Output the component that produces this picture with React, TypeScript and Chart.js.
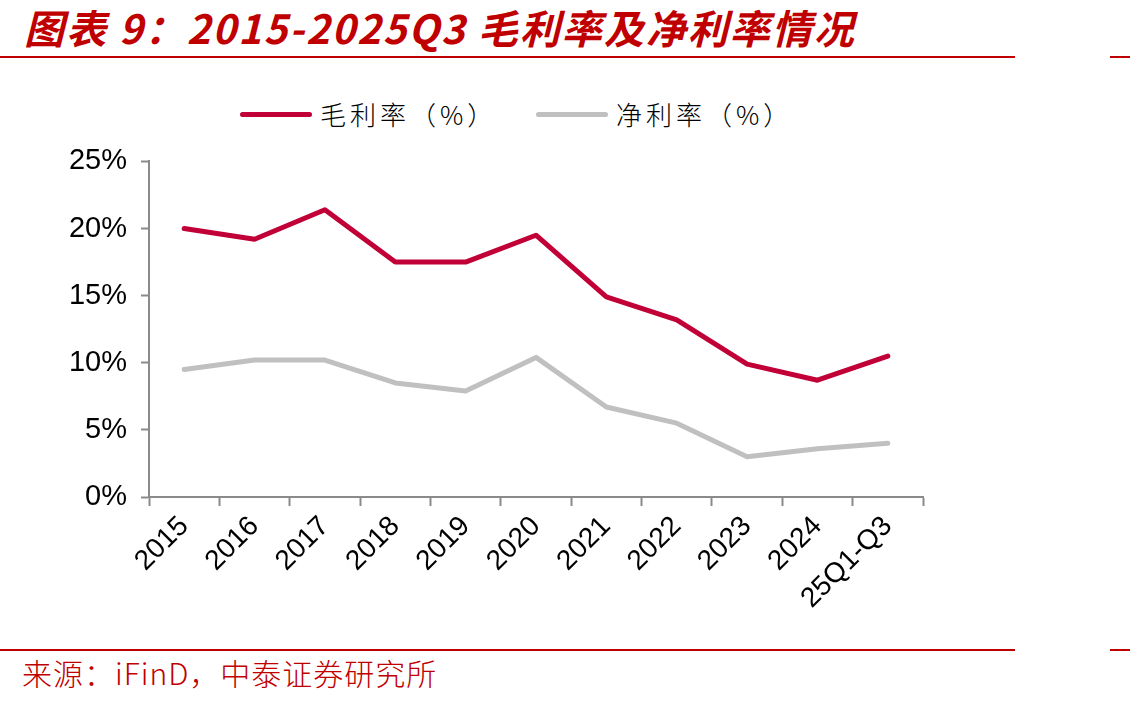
import React, { useEffect, useRef } from "react";
import { Chart, registerables } from "chart.js";

Chart.register(...registerables);

const categories = ["2015", "2016", "2017", "2018", "2019", "2020", "2021", "2022", "2023", "2024", "25Q1-Q3"];
const grossMargin = [20.0, 19.2, 21.4, 17.5, 17.5, 19.5, 14.9, 13.2, 9.9, 8.7, 10.5];
const netMargin = [9.5, 10.2, 10.2, 8.5, 7.9, 10.4, 6.7, 5.5, 3.0, 3.6, 4.0];
const seriesNames = ["毛利率（%）", "净利率（%）"];
const seriesColors = ["#C00036", "#C0C0C0"];
const yTicks = [0, 5, 10, 15, 20, 25];

const RED = "#C00000";
const AXIS = "#8A8A8A";

export default function App() {
  const canvasRef = useRef<HTMLCanvasElement | null>(null);

  useEffect(() => {
    const canvas = canvasRef.current;
    if (!canvas) return;
    const canvasTop = 130;
    const canvasHeight = 510;
    const plotBottom = 497;
    const chart = new Chart(canvas, {
      type: "line",
      data: {
        labels: categories,
        datasets: [
          {
            label: seriesNames[0],
            data: grossMargin,
            borderColor: seriesColors[0],
            backgroundColor: seriesColors[0],
            borderWidth: 5,
            pointRadius: 0,
            tension: 0,
            borderCapStyle: "round",
            borderJoinStyle: "round",
          },
          {
            label: seriesNames[1],
            data: netMargin,
            borderColor: seriesColors[1],
            backgroundColor: seriesColors[1],
            borderWidth: 5,
            pointRadius: 0,
            tension: 0,
            borderCapStyle: "round",
            borderJoinStyle: "round",
          },
        ],
      },
      options: {
        responsive: false,
        animation: false,
        devicePixelRatio: 1,
        layout: { padding: { top: 30, right: 207, left: 0, bottom: 0 } },
        plugins: {
          legend: { display: false },
          tooltip: { enabled: false },
        },
        scales: {
          x: {
            type: "category",
            offset: true,
            grid: {
              offset: true,
              drawOnChartArea: false,
              drawTicks: true,
              tickLength: 9,
              tickWidth: 2,
              tickColor: AXIS,
            },
            border: { color: AXIS, width: 2 },
            ticks: {
              minRotation: 45,
              maxRotation: 45,
              autoSkip: false,
              padding: 4,
              color: "#000",
              font: { family: "'Liberation Sans', Arial, sans-serif", size: 28 },
            },
            afterFit: (scale: any) => {
              scale.height = canvasTop + canvasHeight - plotBottom;
            },
          },
          y: {
            min: 0,
            max: 25,
            afterBuildTicks: (scale: any) => {
              scale.ticks = yTicks.map((v) => ({ value: v }));
            },
            grid: {
              drawOnChartArea: false,
              drawTicks: true,
              tickLength: 8,
              tickWidth: 2,
              tickColor: AXIS,
            },
            border: { color: AXIS, width: 2 },
            ticks: {
              padding: 14,
              color: "#000",
              font: { family: "'Liberation Sans', Arial, sans-serif", size: 29 },
              callback: (v: any) => `${v}%`,
            },
            afterFit: (scale: any) => {
              scale.width = 149;
            },
          },
        },
      },
    });
    return () => chart.destroy();
  }, []);

  const rule = (top: number) => (
    <>
      <div style={{ position: "absolute", left: 0, top, width: 1015, height: 2, background: RED }} />
      <div style={{ position: "absolute", left: 1110, top, width: 20, height: 2, background: RED }} />
    </>
  );

  return (
    <div
      style={{
        position: "fixed",
        left: 0,
        top: 0,
        width: 1130,
        height: 703,
        background: "#fff",
        overflow: "hidden",
      }}
    >
      <div
        style={{
          position: "absolute",
          left: 24,
          top: -2,
          fontFamily: "'Noto Sans CJK SC', sans-serif",
          fontWeight: 700,
          fontStyle: "italic",
          fontSize: 40,
          letterSpacing: 2,
          color: RED,
          whiteSpace: "nowrap",
        }}
      >
        图表 9：2015-2025Q3 毛利率及净利率情况
      </div>
      {rule(56)}

      {seriesNames.map((name, i) => (
        <div
          key={name}
          style={{
            position: "absolute",
            left: i === 0 ? 240 : 536,
            top: 96,
            display: "flex",
            alignItems: "center",
            whiteSpace: "nowrap",
          }}
        >
          <div style={{ width: 72, height: 5, borderRadius: 3, background: seriesColors[i] }} />
          <span
            style={{
              marginLeft: 8,
              fontFamily: "'Noto Sans CJK SC', sans-serif",
              fontWeight: 300,
              fontSize: 26,
              letterSpacing: 4,
              color: "#000",
              lineHeight: "36px",
            }}
          >
            {name}
          </span>
        </div>
      ))}

      <canvas
        ref={canvasRef}
        width={1130}
        height={510}
        style={{ position: "absolute", left: 0, top: 130, width: 1130, height: 510 }}
      />

      {rule(649)}
      <div
        style={{
          position: "absolute",
          left: 22,
          top: 650,
          fontFamily: "'Noto Sans CJK SC', sans-serif",
          fontWeight: 300,
          fontSize: 30,
          letterSpacing: 1,
          color: RED,
          whiteSpace: "nowrap",
        }}
      >
        来源：iFinD，中泰证券研究所
      </div>
    </div>
  );
}
